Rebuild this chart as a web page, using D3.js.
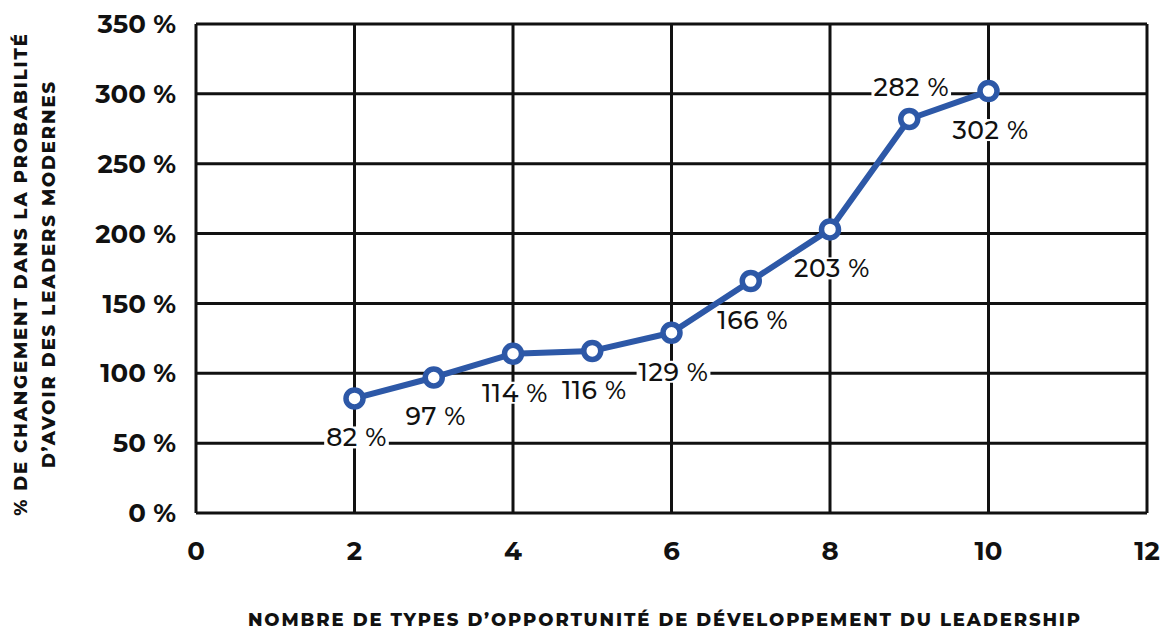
<!DOCTYPE html>
<html lang="fr">
<head>
<meta charset="UTF-8">
<title>Opportunités de développement du leadership</title>
<script src="https://d3js.org/d3.v7.min.js"></script>
<style>
    body { margin: 0; background: #fff; }
    svg text { font-family: "Montserrat", "Inter", "Open Sans", sans-serif; }
    .tick-label { font-size: 26px; font-weight: 700; fill: #111; }
    .axis-title { font-size: 18px; font-weight: 800; letter-spacing: 1.9px; fill: #111; }
    .value-label { font-size: 25px; font-weight: 500; letter-spacing: 0.6px; fill: #111; }
</style>
</head>
<body>
<div id="chart"></div>
<script>
// data
var types = [2, 3, 4, 5, 6, 7, 8, 9, 10];
var changes = [82, 97, 114, 116, 129, 166, 203, 282, 302];
var labelAbove = [false, false, false, false, false, false, false, true, false];
var xTicks = [0, 2, 4, 6, 8, 10, 12];
var yTicks = [0, 50, 100, 150, 200, 250, 300, 350];

var W = 1170, H = 631;
var margin = {top: 24, right: 23, bottom: 118, left: 196};
var width = W - margin.left - margin.right,
    height = H - margin.top - margin.bottom;

var svg = d3.select("#chart").append("svg")
    .attr("width", W)
    .attr("height", H);

var g = svg.append("g")
    .attr("transform", "translate(" + margin.left + "," + margin.top + ")");

var x = d3.scaleLinear().domain([0, 12]).range([0, width]);
var y = d3.scaleLinear().domain([0, 350]).range([height, 0]);

// grid
g.selectAll(".hgrid").data(yTicks).enter().append("line")
    .attr("x1", 0).attr("x2", width)
    .attr("y1", function(d) { return y(d); })
    .attr("y2", function(d) { return y(d); })
    .attr("stroke", "#111").attr("stroke-width", 3);

g.selectAll(".vgrid").data(xTicks).enter().append("line")
    .attr("y1", 0).attr("y2", height)
    .attr("x1", function(d) { return x(d); })
    .attr("x2", function(d) { return x(d); })
    .attr("stroke", "#111").attr("stroke-width", 3);

// tick labels
g.selectAll(".ylab").data(yTicks).enter().append("text")
    .attr("class", "tick-label")
    .attr("x", -20)
    .attr("y", function(d) { return y(d); })
    .attr("dy", "0.35em")
    .attr("text-anchor", "end")
    .text(function(d) { return d + " %"; });

g.selectAll(".xlab").data(xTicks).enter().append("text")
    .attr("class", "tick-label")
    .attr("x", function(d) { return x(d); })
    .attr("y", height + 38)
    .attr("dy", "0.35em")
    .attr("text-anchor", "middle")
    .text(function(d) { return d; });

// axis titles
svg.append("text")
    .attr("class", "axis-title")
    .attr("x", 665).attr("y", 626)
    .attr("text-anchor", "middle")
    .text("NOMBRE DE TYPES D\u2019OPPORTUNITÉ DE DÉVELOPPEMENT DU LEADERSHIP");

var yt = svg.append("text")
    .attr("class", "axis-title")
    .attr("transform", "translate(27,274) rotate(-90)")
    .attr("text-anchor", "middle");
yt.append("tspan").attr("x", 0).attr("y", 0).text("% DE CHANGEMENT DANS LA PROBABILITÉ");
yt.append("tspan").attr("x", 0).attr("y", 28).text("D\u2019AVOIR DES LEADERS MODERNES");

// line
var pts = types.map(function(t, i) { return {t: t, v: changes[i], up: labelAbove[i]}; });

g.append("path")
    .datum(pts)
    .attr("fill", "none")
    .attr("stroke", "#2d58a7")
    .attr("stroke-width", 6)
    .attr("stroke-linejoin", "round")
    .attr("d", d3.line()
        .x(function(d) { return x(d.t); })
        .y(function(d) { return y(d.v); }));

g.selectAll(".dot").data(pts).enter().append("circle")
    .attr("cx", function(d) { return x(d.t); })
    .attr("cy", function(d) { return y(d.v); })
    .attr("r", 8.5)
    .attr("fill", "#fff")
    .attr("stroke", "#2d58a7")
    .attr("stroke-width", 5.5);

// value labels with white boxes
var lab = g.selectAll(".vl").data(pts).enter().append("g")
    .attr("transform", function(d) {
        return "translate(" + (x(d.t) + 2) + "," + (y(d.v) + (d.up ? -32 : 39)) + ")";
    });

lab.append("text")
    .attr("class", "value-label")
    .attr("text-anchor", "middle")
    .attr("dy", "0.36em")
    .text(function(d) { return d.v + " %"; });

lab.insert("rect", "text")
    .attr("fill", "#fff")
    .each(function() {
        var b = this.parentNode.querySelector("text").getBBox();
        d3.select(this)
            .attr("x", b.x - 2).attr("y", b.y + 4)
            .attr("width", b.width + 4).attr("height", b.height - 8);
    });
</script>
</body>
</html>
